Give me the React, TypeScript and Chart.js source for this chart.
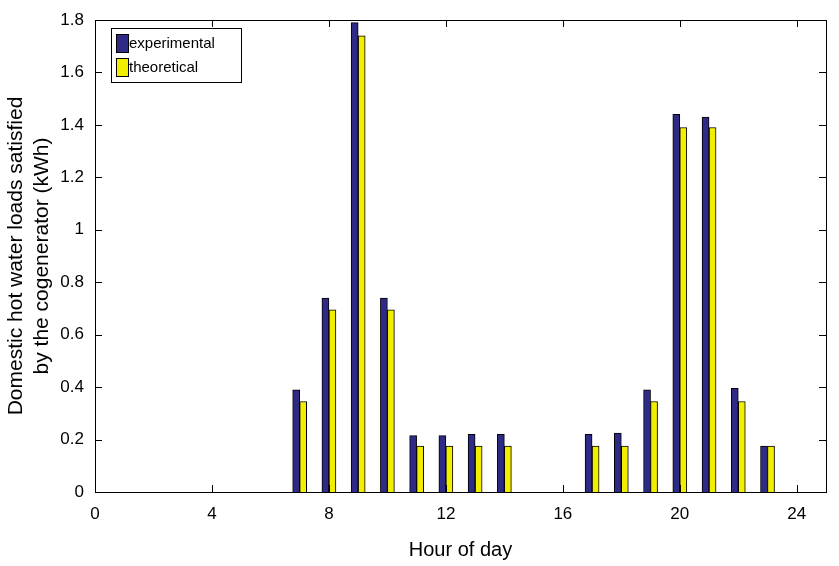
import React, { useEffect, useRef } from "react";
import { Chart, registerables } from "chart.js";
Chart.register(...registerables);

const hours = [1,2,3,4,5,6,7,8,9,10,11,12,13,14,15,16,17,18,19,20,21,22,23,24];
const experimental = [0,0,0,0,0,0,0.39,0.74,1.79,0.74,0.215,0.215,0.22,0.22,0,0,0.22,0.225,0.39,1.44,1.43,0.395,0.175,0];
const theoretical = [0,0,0,0,0,0,0.345,0.695,1.74,0.695,0.175,0.175,0.175,0.175,0,0,0.175,0.175,0.345,1.39,1.39,0.345,0.175,0];
const xTicks = [0,4,8,12,16,20,24];
const FONT = "'Liberation Sans', Arial, sans-serif";

const frame = {
  id: "frame",
  afterDraw(chart: any) {
    const { ctx, chartArea: a, scales } = chart;
    ctx.save();
    ctx.strokeStyle = "#000";
    ctx.lineWidth = 1;
    ctx.strokeRect(a.left + 0.5, a.top + 0.5, a.right - a.left, a.bottom - a.top);
    ctx.beginPath();
    for (const v of xTicks) {
      const x = Math.round(scales.x.getPixelForValue(v)) + 0.5;
      ctx.moveTo(x, a.bottom); ctx.lineTo(x, a.bottom - 7);
      ctx.moveTo(x, a.top); ctx.lineTo(x, a.top + 7);
    }
    for (let v = 0; v <= 1.8001; v += 0.2) {
      const y = Math.round(scales.y.getPixelForValue(v)) + 0.5;
      ctx.moveTo(a.left, y); ctx.lineTo(a.left + 7, y);
      ctx.moveTo(a.right, y); ctx.lineTo(a.right - 7, y);
    }
    ctx.stroke();
    const lx = a.left + 16, ly = a.top + 8, w = 130, h = 54;
    ctx.fillStyle = "#fff";
    ctx.fillRect(lx, ly, w, h);
    ctx.strokeRect(lx + 0.5, ly + 0.5, w, h);
    const items = [["experimental", "#2e2a86"], ["theoretical", "#f2ee00"]];
    ctx.font = "15px " + FONT;
    ctx.textBaseline = "middle";
    items.forEach(([t, c], i) => {
      const y = ly + 6 + i * 24;
      ctx.fillStyle = c;
      ctx.fillRect(lx + 5, y, 12, 18);
      ctx.strokeRect(lx + 5.5, y + 0.5, 12, 18);
      ctx.fillStyle = "#000";
      ctx.fillText(t, lx + 18, y + 10);
    });
    ctx.restore();
  },
};

export default function App() {
  const ref = useRef<HTMLCanvasElement>(null);
  useEffect(() => {
    const chart = new Chart(ref.current!, {
      type: "bar",
      data: {
        labels: hours,
        datasets: [
          { label: "experimental", data: hours.map((h, i) => ({ x: h, y: experimental[i] })), backgroundColor: "#2e2a86", borderColor: "#000", borderWidth: 1, barThickness: 7 },
          { label: "theoretical", data: hours.map((h, i) => ({ x: h, y: theoretical[i] })), backgroundColor: "#f2ee00", borderColor: "#000", borderWidth: 1, barThickness: 7 },
        ],
      } as any,
      options: {
        animation: false,
        responsive: false,
        layout: { padding: { left: 4, right: 13, top: 20, bottom: 0 } },
        plugins: { legend: { display: false }, tooltip: { enabled: false } },
        scales: {
          x: {
            type: "linear", min: 0, max: 25, offset: false,
            grid: { display: false },
            border: { display: false },
            afterBuildTicks: (s: any) => { s.ticks = xTicks.map((v) => ({ value: v })); },
            afterFit: (s: any) => { s.height = 74; },
            ticks: { color: "#000", font: { family: FONT, size: 17 }, padding: 4 },
            title: { display: true, text: "Hour of day", color: "#000", font: { family: FONT, size: 20 }, padding: { top: 0 } },
          },
          y: {
            min: 0, max: 1.8,
            grid: { display: false },
            border: { display: false },
            afterFit: (s: any) => { s.width = 91; },
            ticks: { stepSize: 0.2, color: "#000", font: { family: FONT, size: 17 }, callback: (v: any) => String(Math.round(v * 10) / 10) },
            title: { display: true, text: ["Domestic hot water loads satisfied", "by the cogenerator (kWh)"], color: "#000", font: { family: FONT, size: 21 }, padding: 0 },
          },
        },
      } as any,
      plugins: [frame],
    });
    return () => chart.destroy();
  }, []);
  return (
    <div style={{ position: "fixed", left: 0, top: 0, width: 839, height: 566, background: "#fff" }}>
      <canvas ref={ref} width={839} height={566} />
    </div>
  );
}
